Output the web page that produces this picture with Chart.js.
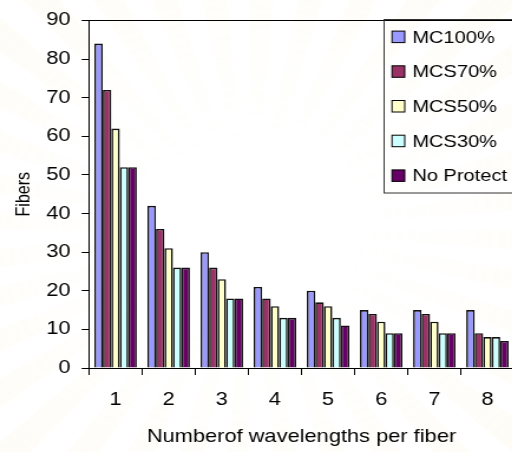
<!DOCTYPE html>
<html>
<head>
<meta charset="utf-8">
<script src="https://cdn.jsdelivr.net/npm/chart.js@4.4.1/dist/chart.umd.min.js"></script>
<style>
  html, body { margin: 0; padding: 0; background: #ffffff; overflow: hidden; width: 512px; height: 452px; }
  /* the figure is drawn slightly narrow and widened horizontally, like the original export */
  #wrap { width: 440px; height: 452px; transform: scaleX(1.18); transform-origin: 0 0; }
  canvas { display: block; }
</style>
</head>
<body>
<div id="wrap"><canvas id="c" width="440" height="452"></canvas></div>
<script>
// Wavelengths per fiber (x categories)
const categories = ['1', '2', '3', '4', '5', '6', '7', '8'];

// Series names, in legend order
const seriesNames = ['MC100%', 'MCS70%', 'MCS50%', 'MCS30%', 'No Protect'];

// Number of fibers for each protection scheme
const mc100     = [84, 42, 30, 21, 20, 15, 15, 15];
const mcs70     = [72, 36, 26, 18, 17, 14, 14, 9];
const mcs50     = [62, 31, 23, 16, 16, 12, 12, 8];
const mcs30     = [52, 26, 18, 13, 13, 9, 9, 8];
const noProtect = [52, 26, 18, 13, 11, 9, 9, 7];

// Y axis range and tick step
const yMin = 0;
const yMax = 90;
const yStep = 10;

const seriesValues = [mc100, mcs70, mcs50, mcs30, noProtect];
const seriesColors = ['#9999FF', '#993366', '#FFFFCC', '#CCFFFF', '#660066'];

const FONT = "'Liberation Sans', Arial, Helvetica, sans-serif";

// Faint sunburst watermark behind the chart
const backdrop = {
  id: 'backdrop',
  beforeDraw(chart) {
    const ctx = chart.ctx;
    const cx = 212, cy = 230;
    ctx.save();
    const g = ctx.createRadialGradient(cx, cy, 90, cx, cy, 360);
    g.addColorStop(0, 'rgba(245,232,180,0)');
    g.addColorStop(1, 'rgba(240,225,160,0.11)');
    ctx.fillStyle = g;
    for (let a = 0; a < 360; a += 10) {
      const r1 = a * Math.PI / 180;
      const r2 = (a + 5) * Math.PI / 180;
      ctx.beginPath();
      ctx.moveTo(cx, cy);
      ctx.arc(cx, cy, 700, r1, r2);
      ctx.closePath();
      ctx.fill();
    }
    ctx.restore();
  }
};

// Plot frame (top and right edges) and the boxed legend overlapping the plot
const frameAndLegend = {
  id: 'frameAndLegend',
  afterDraw(chart) {
    const ctx = chart.ctx;
    const a = chart.chartArea;
    ctx.save();
    ctx.strokeStyle = '#000';
    ctx.lineWidth = 1;
    ctx.beginPath();
    ctx.moveTo(a.left, Math.round(a.top) + 0.5);
    ctx.lineTo(a.right, Math.round(a.top) + 0.5);
    ctx.lineTo(a.right, a.bottom);
    ctx.stroke();

    const box = { left: 325.5, top: 19.5, rowH: 34.7, swatchX: 332.2, swW: 10.8, swH: 11.5, textX: 349.4 };
    const n = chart.data.datasets.length;
    ctx.strokeStyle = '#333';
    ctx.strokeRect(box.left, box.top, chart.width, box.rowH * n);
    ctx.font = '17px ' + FONT;
    ctx.textBaseline = 'middle';
    ctx.textAlign = 'left';
    chart.data.datasets.forEach((ds, i) => {
      const yc = box.top + box.rowH * (i + 0.5);
      ctx.fillStyle = ds.backgroundColor;
      ctx.fillRect(box.swatchX, yc - box.swH / 2, box.swW, box.swH);
      ctx.strokeStyle = '#000';
      ctx.strokeRect(box.swatchX, yc - box.swH / 2, box.swW, box.swH);
      ctx.fillStyle = '#000';
      ctx.fillText(ds.label, box.textX, yc + 1);
    });
    ctx.restore();
  }
};

new Chart(document.getElementById('c'), {
  type: 'bar',
  data: {
    labels: categories,
    datasets: seriesNames.map((name, i) => ({
      label: name,
      data: seriesValues[i],
      backgroundColor: seriesColors[i],
      borderColor: '#111',
      borderWidth: 1.6,
      barPercentage: 1.0,
      categoryPercentage: 0.8
    }))
  },
  options: {
    responsive: false,
    animation: false,
    devicePixelRatio: 1,
    layout: { padding: { left: 0, top: 19.5, right: 4.4, bottom: 0 } },
    plugins: {
      legend: { display: false },
      tooltip: { enabled: false }
    },
    scales: {
      x: {
        type: 'category',
        offset: true,
        grid: { display: true, offset: true, drawOnChartArea: false, drawTicks: true, tickLength: 7, color: '#000', lineWidth: 1 },
        border: { display: true, color: '#000', width: 1 },
        ticks: { color: '#000', font: { family: FONT, size: 18.5 }, padding: 13.6, maxRotation: 0, autoSkip: false },
        title: { display: true, text: 'Numberof wavelengths per fiber', color: '#000', font: { family: FONT, size: 18.5 }, padding: { top: 0, bottom: 4.2 } },
        afterFit(scale) { scale.height = 84; }
      },
      y: {
        min: yMin,
        max: yMax,
        grid: { display: true, drawOnChartArea: false, drawTicks: true, tickLength: 6.2, color: '#000', lineWidth: 1 },
        border: { display: true, color: '#000', width: 1 },
        ticks: { stepSize: yStep, color: '#000', font: { family: FONT, size: 18.5 }, padding: 9.3 },
        title: { display: true, text: 'Fibers', color: '#000', font: { family: FONT, size: 16 }, padding: { top: 10.5, bottom: 0 } },
        afterFit(scale) { scale.width = 75.4; }
      }
    }
  },
  plugins: [backdrop, frameAndLegend]
});
</script>
</body>
</html>
